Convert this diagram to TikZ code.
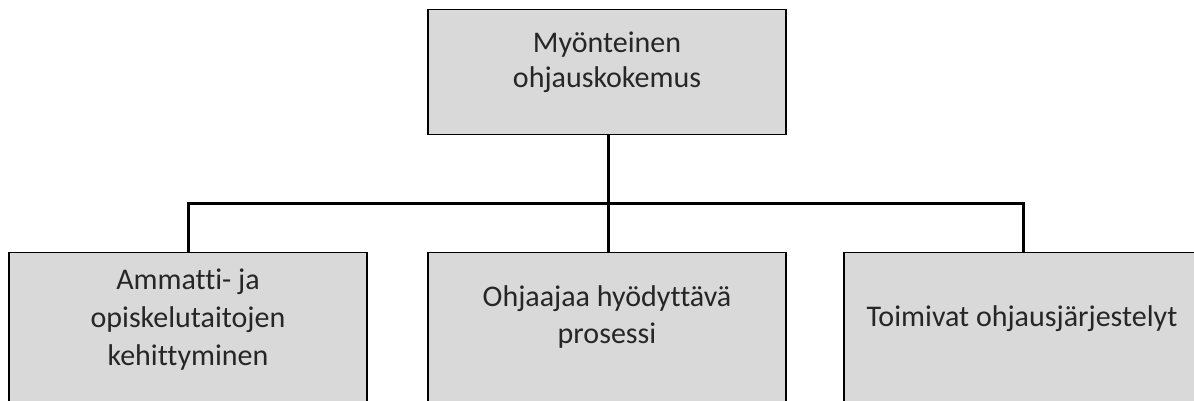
\documentclass[tikz,border=0pt]{standalone}
\usepackage{fontspec}
\setmainfont{Carlito}[Ligatures=NoCommon]
\begin{document}
\begin{tikzpicture}[x=0.5pt,y=-0.5pt,
  boxstyle/.style={draw=black,line width=0.7pt,fill=black!15,rectangle,inner sep=0pt,
    minimum width=179pt,anchor=north},
  txt/.style={text=black!85,align=center,inner sep=0pt,anchor=base},
  link/.style={line width=1.5pt,black}]
\useasboundingbox (0,0) rectangle (1194,401);
\clip (0,0) rectangle (1194,401);
% boxes
\node[boxstyle,minimum height=62.5pt] (top) at (607,9) {};
\node[boxstyle,minimum height=80pt] (left) at (188,252) {};
\node[boxstyle,minimum height=80pt] (mid) at (607,252) {};
\node[boxstyle,minimum height=80pt] (right) at (1023,252) {};
% labels (anchored at the baseline of the last line)
\node[txt,font=\fontsize{15}{17.5}\selectfont] (ttop) at (607,88) {Myönteinen\\ohjauskokemus};
\node[txt,font=\fontsize{15}{19}\selectfont] (tleft) at (188,365) {Ammatti- ja\\opiskelutaitojen\\kehittyminen};
\node[txt,font=\fontsize{15}{18.5}\selectfont] (tmid) at (607,343) {Ohjaajaa hyödyttävä\\prosessi};
\node[txt,font=\fontsize{15}{18}\selectfont] (tright) at (1022,326) {Toimivat ohjausjärjestelyt};
% connectors
\draw[link] ([xshift=0.5pt]top.south) -- ([xshift=0.5pt]mid.north);
\draw[link] (left.north) -- ++(0,-49) -| (right.north);
\end{tikzpicture}
\end{document}
